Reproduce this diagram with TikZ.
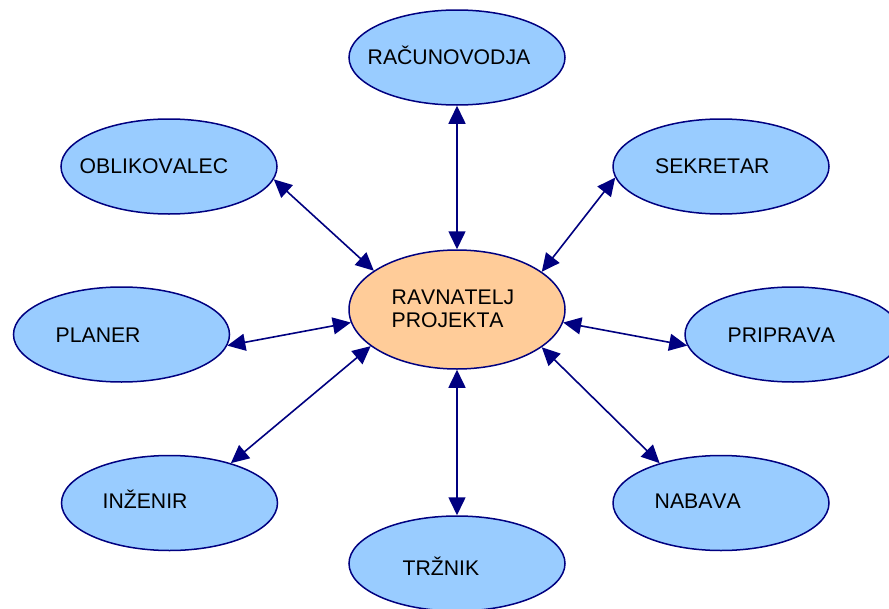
\documentclass[tikz,border=0pt]{standalone}
\usepackage{fontspec}
\setmainfont[Kerning=Off]{Liberation Sans}
\usetikzlibrary{arrows.meta,shapes.geometric}
\definecolor{edge}{RGB}{0,0,128}
\definecolor{rolefill}{RGB}{153,204,255}
\definecolor{headfill}{RGB}{255,204,153}
\begin{document}
\begin{tikzpicture}[x=1pt,y=-1pt,
  role/.style={ellipse, draw=edge, line width=1.5pt, fill=rolefill,
    minimum width=216pt, minimum height=95pt, inner sep=0pt},
  head/.style={role, fill=headfill, minimum height=119pt},
  lbl/.style={inner sep=0pt, anchor=base west, font=\fontsize{21.2}{23}\selectfont},
  link/.style={draw=edge, line width=1.6pt,
    {Triangle[length=18pt,width=17pt]}-{Triangle[length=18pt,width=17pt]}}]
\useasboundingbox (0,0) rectangle (889,608);
\fill[white] (0,0) rectangle (889,608);

% ellipses
\node[head] (rav) at (457,309.5) {};
\node[role] (rac) at (457,57.5) {};
\node[role] (obl) at (169,166.5) {};
\node[role] (sek) at (721,166.5) {};
\node[role] (pla) at (121.5,334.5) {};
\node[role] (pri) at (793,334.5) {};
\node[role] (inz) at (169.5,503) {};
\node[role] (nab) at (721,503) {};
\node[role] (trz) at (457,563.5) {};

% labels
\node[lbl] (trac) at (367.5,64) {RAČUNOVODJA};
\node[lbl] (tobl) at (79.5,173) {OBLIKOVALEC};
\node[lbl] (tsek) at (655,173) {SEKRETAR};
\node[lbl] (tpla) at (55.5,342) {PLANER};
\node[lbl] (tpri) at (727.5,342) {PRIPRAVA};
\node[lbl] (tinz) at (102.5,508) {INŽENIR};
\node[lbl] (tnab) at (654.5,508) {NABAVA};
\node[lbl] (ttrz) at (402.5,575) {TRŽNIK};
\node[lbl] (trav1) at (391.5,304) {RAVNATELJ};
\node[lbl] (trav2) at (391.5,327) {PROJEKTA};

% connectors
\draw[link] (rac.south) -- (rav.north);
\draw[link] (trz.north) -- (rav.south);
\draw[link] (obl.353.4) -- (rav.155.1);
\draw[link] (sek.186) -- (rav.24.7);
\draw[link] (pla.354.5) -- (rav.187);
\draw[link] (pri.186) -- (rav.353);
\draw[link] (inz.33.5) -- (rav.203.4);
\draw[link] (nab.147.4) -- (rav.336.4);
\end{tikzpicture}
\end{document}
